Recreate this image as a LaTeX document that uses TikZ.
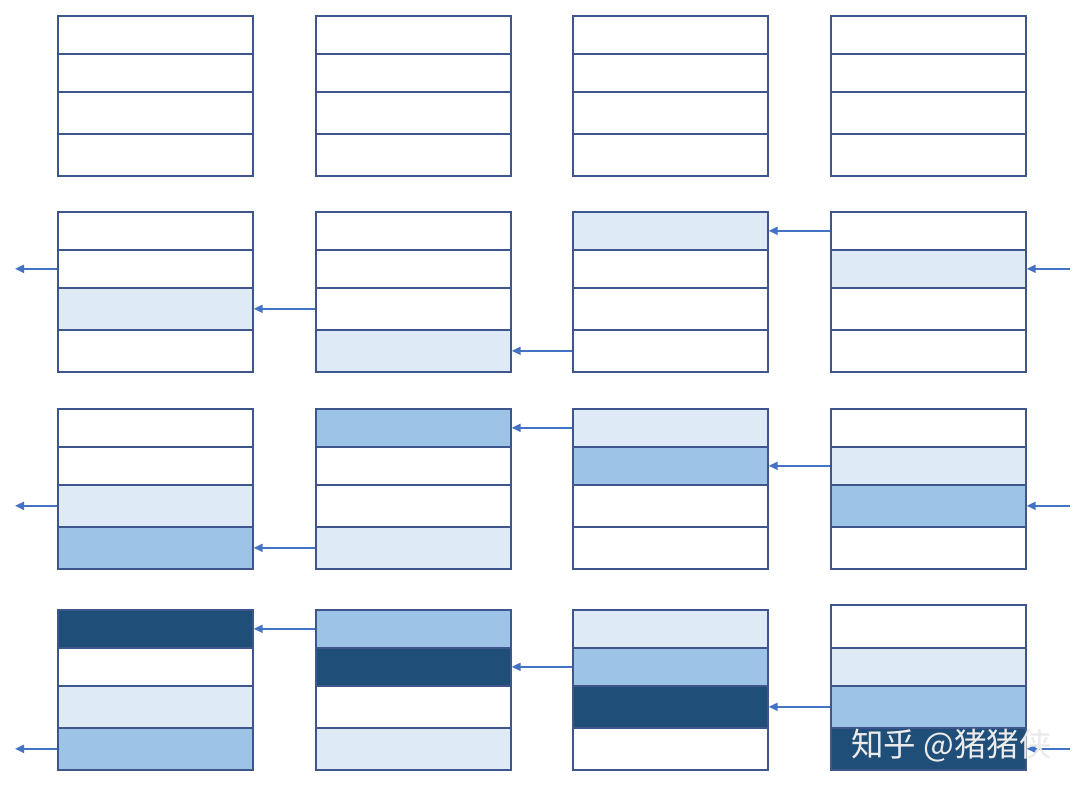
\documentclass[tikz,border=0pt]{standalone}
\usepackage{fontspec}
\newfontfamily\cjkfont{Noto Sans CJK SC}
\usetikzlibrary{arrows.meta}

\definecolor{cellborder}{HTML}{3E568C}
\definecolor{cellw}{HTML}{FFFFFF}
\definecolor{celll}{HTML}{DEEAF6}
\definecolor{cellm}{HTML}{9DC3E6}
\definecolor{celld}{HTML}{1F4E79}
\definecolor{arrowblue}{HTML}{4472C4}

\begin{document}
\begin{tikzpicture}
[x=1pt,y=-1pt,
  celldecorate/.style={shape=rectangle,draw=cellborder,line width=1.7pt,%
    minimum width=195pt,inner sep=0pt,anchor=north west},%
  arrowdecorate/.style={-{Triangle[length=9pt,width=8pt]},line width=2pt,draw=arrowblue,fill=arrowblue}]
\useasboundingbox[fill=white] (0,0) rectangle (1080,794);
%% stacks: row/column/left/top/four fills/lift of the first cell
\foreach \r/\c/\x/\top/\fa/\fb/\fc/\fd/\lift in {
  %% first row
  1/1/57/15/w/w/w/w/0, 1/2/315/15/w/w/w/w/0, 1/3/572/15/w/w/w/w/0, 1/4/830/15/w/w/w/w/0,
  %% second row
  2/1/57/211/w/w/l/w/0, 2/2/315/211/w/w/w/l/0, 2/3/572/211/l/w/w/w/0, 2/4/830/211/w/l/w/w/0,
  %% third row
  3/1/57/408/w/w/l/m/0, 3/2/315/408/m/w/w/l/0, 3/3/572/408/l/m/w/w/0, 3/4/830/408/w/l/m/w/0,
  %% fourth row
  4/1/57/609/d/w/l/m/0, 4/2/315/609/m/d/w/l/0, 4/3/572/609/l/m/d/w/0, 4/4/830/609/w/l/m/d/5}
{
  \foreach \k/\off/\h/\f in {1/0/38/\fa, 2/38/38/\fb, 3/76/42/\fc, 4/118/42/\fd}
  {
    \pgfmathsetmacro\ytop{\top+\off-(\k==1)*\lift}
    \pgfmathsetmacro\hh{\h+(\k==1)*\lift}
    \node (r\r-\c-\k) at (\x,\ytop) [celldecorate,minimum height=\hh pt,fill=cell\f] {};
  }
}
%% arrows between stacks
\path
\foreach \r/\from/\to/\k in {
  2/4/3/1, 2/3/2/4, 2/2/1/3,
  3/4/3/2, 3/3/2/1, 3/2/1/4,
  4/4/3/3, 4/3/2/2, 4/2/1/1}
{
  (r\r-\from-\k.west) edge[arrowdecorate] (r\r-\to-\k.east)
};
%% arrows in and out of each row
\foreach \r/\k in {2/2, 3/3, 4/4}
{
  \coordinate (in\r) at ([xshift=43pt]r\r-4-\k.east);
  \coordinate (out\r) at ([xshift=-42pt]r\r-1-\k.west);
  \draw[arrowdecorate] (in\r) -- (r\r-4-\k.east);
  \draw[arrowdecorate] (r\r-1-\k.west) -- (out\r);
}
%% watermark
\node (mark) at (851,746) [anchor=west,inner sep=0pt,text=black!8,font=\cjkfont\fontsize{32.5pt}{34pt}\selectfont] {知乎 @猪猪侠};
\end{tikzpicture}
\end{document}
